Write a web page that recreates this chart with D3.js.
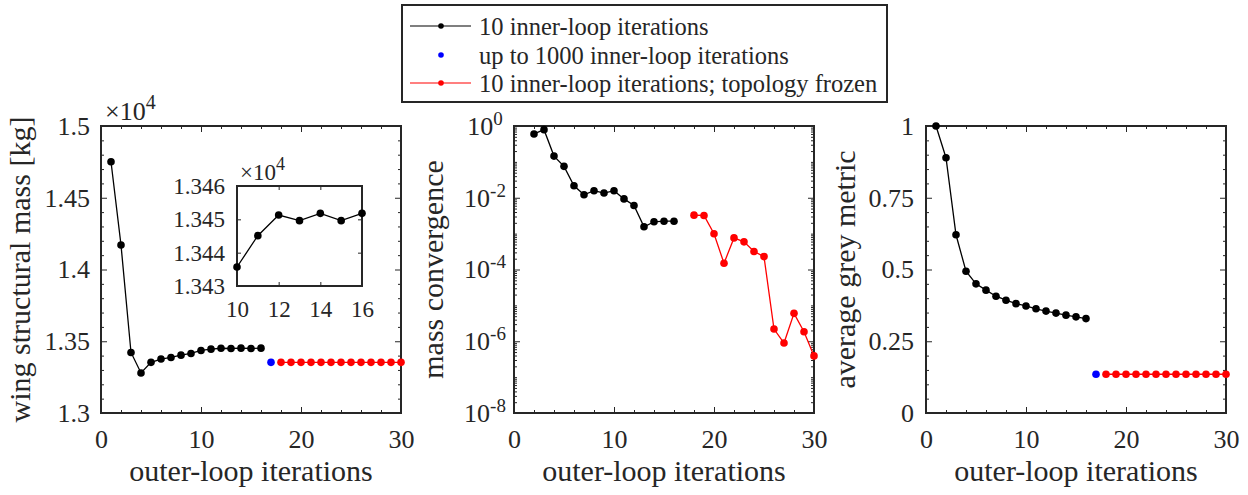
<!DOCTYPE html>
<html><head><meta charset="utf-8">
<script src="https://cdn.jsdelivr.net/npm/d3@7"></script>
<style>
body{margin:0;background:#fff}
svg, svg text{font-family:"Liberation Serif","Times New Roman",serif}
</style></head><body><svg id="c" width="1248" height="495"></svg>
<script>
// ---------------- data ----------------
const itersBlack = [1,2,3,4,5,6,7,8,9,10,11,12,13,14,15,16];
const itersBlue  = [17];
const itersRed   = [18,19,20,21,22,23,24,25,26,27,28,29,30];
const itersConvBlack = [2,3,4,5,6,7,8,9,10,11,12,13,14,15,16];

// wing structural mass [kg]
const massBlack = [14751,14171,13422,13279,13353,13376,13387,13403,13415,13435.7,13445.1,13451.3,13449.6,13451.8,13449.6,13451.8];
const massBlue  = [13353];
const massRed   = [13353,13353,13353,13353,13353,13353,13353,13353,13353,13353,13353,13353,13353];

// mass convergence
const convBlack = [0.6,0.79,0.145,0.075,0.0216,0.0121,0.0157,0.0135,0.0157,0.0093,0.0061,0.00155,0.00214,0.00222,0.00222];
const convRed   = [0.00327,0.0032,0.00099,1.49e-4,7.6e-4,5.9e-4,3.16e-4,2.29e-4,2.19e-6,8.9e-7,6.0e-6,1.84e-6,3.9e-7];

// average grey metric
const greyBlack = [1.0,0.8895,0.621,0.494,0.45,0.428,0.407,0.393,0.381,0.373,0.363,0.355,0.348,0.341,0.335,0.329];
const greyBlue  = [0.135];
const greyRed   = [0.135,0.135,0.135,0.135,0.135,0.135,0.135,0.135,0.135,0.135,0.135,0.135,0.135];

// tick labels
const xTicks = [0,10,20,30];
const massTicks = [13000,13500,14000,14500,15000];
const convTicks = [1e-8,1e-6,1e-4,1e-2,1];
const greyTicks = [0,0.25,0.5,0.75,1];
const greyTickLabels = ["0","0.25","0.5","0.75","1"];
const insetXTicks = [10,12,14,16];
const insetYTicks = [13430,13440,13450,13460];

const legendLabels = ["10 inner-loop iterations","up to 1000 inner-loop iterations","10 inner-loop iterations; topology frozen"];
const xLabel = "outer-loop iterations";
const yLabels = ["wing structural mass [kg]","mass convergence","average grey metric"];

// ---------------- drawing ----------------
const FF = '"Liberation Serif","Times New Roman",serif';
const AX = "#262626", FS = 26, LFS = 30, R = 3.8;
const svg = d3.select("#c");
const TOP = 126, BOT = 413;
const PX = [[101,401],[514,814],[926,1226]];

function tickAxis(g, scale, orient, vals, len, fmt, pad, fs, tx, ty){
  const ax = d3["axis"+orient](scale).tickValues(vals).tickSize(-len).tickSizeOuter(0)
     .tickPadding(pad).tickFormat(fmt || (()=>""));
  const a = g.append("g").attr("transform",`translate(${tx},${ty})`).call(ax);
  a.select(".domain").remove();
  a.attr("font-family",FF).attr("font-size",fs);
  a.selectAll("line").attr("stroke",AX).attr("stroke-width",1);
  a.selectAll("text").attr("fill",AX).attr("font-size",fs).attr("font-family",FF);
  return a;
}

function frame(x, y, xMaj, xMin, yMaj, yMin, yFmt, yPad, fs, majLen, minLen, xPad){
  const g = svg.append("g");
  const [x0,x1] = x.range(); const [y0,y1] = y.range(); // y0 bottom, y1 top
  g.append("rect").attr("x",x0).attr("y",y1).attr("width",x1-x0).attr("height",y0-y1).attr("fill","#fff");
  tickAxis(g,x,"Bottom",xMaj,majLen,d=>d,xPad,fs,0,y0);
  tickAxis(g,x,"Top",xMaj,majLen,null,0,fs,0,y1);
  const left = tickAxis(g,y,"Left",yMaj,majLen,yFmt,yPad,fs,x0,0);
  tickAxis(g,y,"Right",yMaj,majLen,null,0,fs,x1,0);
  if(xMin){ tickAxis(g,x,"Bottom",xMin,minLen,null,0,fs,0,y0); tickAxis(g,x,"Top",xMin,minLen,null,0,fs,0,y1); }
  if(yMin){ tickAxis(g,y,"Left",yMin,minLen,null,0,fs,x0,0); tickAxis(g,y,"Right",yMin,minLen,null,0,fs,x1,0); }
  g.append("rect").attr("x",x0).attr("y",y1).attr("width",x1-x0).attr("height",y0-y1)
    .attr("fill","none").attr("stroke",AX).attr("stroke-width",2);
  return left;
}

function series(x, y, xs, ys, color, withLine){
  const pts = xs.map((v,i)=>[v,ys[i]]);
  if(withLine){
    svg.append("path").datum(pts)
      .attr("d", d3.line().x(d=>x(d[0])).y(d=>y(d[1])))
      .attr("fill","none").attr("stroke",color).attr("stroke-width",1.3);
  }
  svg.append("g").selectAll("circle").data(pts).join("circle")
    .attr("cx",d=>x(d[0])).attr("cy",d=>y(d[1])).attr("r",R).attr("fill",color);
}

function sup(sel, base, exp, fs, efs, dy){
  sel.attr("font-family",FF).attr("font-size",fs).attr("fill",AX);
  sel.append("tspan").text(base);
  sel.append("tspan").attr("dy",-dy).attr("font-size",efs).text(exp);
}

const xMinor = [2,4,6,8,12,14,16,18,22,24,26,28];

// ---- panel 1: mass ----
const x1 = d3.scaleLinear().domain([0,30]).range(PX[0]);
const y1 = d3.scaleLinear().domain([13000,15000]).range([BOT,TOP]);
const massMinor = d3.range(13000,15001,100).filter(v=>v%500!==0);
frame(x1,y1,xTicks,xMinor,massTicks,massMinor,d=>String(d/1e4),11,FS,6,3,17);
series(x1,y1,itersBlack,massBlack,"#000",true);
series(x1,y1,itersBlue,massBlue,"#00f",false);
series(x1,y1,itersRed,massRed,"#f00",true);
svg.append("text").attr("x",105).attr("y",120).call(sup,"×10","4",26,20,11);

// inset
const xi = d3.scaleLinear().domain([10,16]).range([237,362]);
const yi = d3.scaleLinear().domain([13430,13460]).range([286,186]);
frame(xi,yi,insetXTicks,null,insetYTicks,null,d=>(d/1e4).toFixed(3),12,23,4,2,15);
series(xi,yi,itersBlack.slice(9),massBlack.slice(9),"#000",true);
svg.append("text").attr("x",240).attr("y",180).call(sup,"×10","4",23,18,10);

// ---- panel 2: convergence (log) ----
const x2 = d3.scaleLinear().domain([0,30]).range(PX[1]);
const y2 = d3.scaleLog().domain([1e-8,1]).range([BOT,TOP]);
const convMinor = [];
for(let e=-8;e<0;e++){ for(let m=1;m<10;m++){ const v=m*Math.pow(10,e); if(!(m===1 && e%2===0)) convMinor.push(v);} }
const left2 = frame(x2,y2,xTicks,xMinor,convTicks,convMinor,d=>"10",29,FS,6,3,17);
left2.selectAll(".tick text").each(function(d){
  const t = d3.select(this);
  const e = Math.round(Math.log10(d));
  t.attr("text-anchor","middle").text(null);
  t.append("tspan").text("10");
  t.append("tspan").attr("dy",-10).attr("font-size",19).text(String(e));
});
series(x2,y2,itersConvBlack,convBlack,"#000",true);
series(x2,y2,itersRed,convRed,"#f00",true);

// ---- panel 3: grey ----
const x3 = d3.scaleLinear().domain([0,30]).range(PX[2]);
const y3 = d3.scaleLinear().domain([0,1]).range([BOT,TOP]);
const greyMinor = d3.range(0,1.0001,0.05).filter(v=>Math.abs(v/0.25-Math.round(v/0.25))>1e-6);
frame(x3,y3,xTicks,xMinor,greyTicks,greyMinor,d=>greyTickLabels[greyTicks.indexOf(d)],12,FS,6,3,17);
series(x3,y3,itersBlack,greyBlack,"#000",true);
series(x3,y3,itersBlue,greyBlue,"#00f",false);
series(x3,y3,itersRed,greyRed,"#f00",true);

// axis titles
PX.forEach((p,i)=>{
  svg.append("text").attr("x",(p[0]+p[1])/2).attr("y",481).attr("text-anchor","middle")
    .attr("font-family",FF).attr("font-size",LFS).attr("fill",AX).text(xLabel);
  svg.append("text").attr("transform",`translate(${p[0]-71},${(TOP+BOT)/2}) rotate(-90)`)
    .attr("text-anchor","middle").attr("font-family",FF).attr("font-size",LFS).attr("fill",AX).text(yLabels[i]);
});

// legend
const lg = svg.append("g");
lg.append("rect").attr("x",402).attr("y",5).attr("width",485).attr("height",97)
  .attr("fill","#fff").attr("stroke",AX).attr("stroke-width",2);
const legColors = ["#000","#00f","#f00"], legLine=[true,false,true], legY=[26,55,83];
legendLabels.forEach((lab,i)=>{
  if(legLine[i]) lg.append("line").attr("x1",410).attr("x2",471).attr("y1",legY[i]).attr("y2",legY[i])
     .attr("stroke",legColors[i]).attr("stroke-width",1.2);
  lg.append("circle").attr("cx",441).attr("cy",legY[i]).attr("r",2.8).attr("fill",legColors[i]);
  lg.append("text").attr("x",479).attr("y",legY[i]+8.5).attr("font-family",FF).attr("font-size",24.5).attr("fill",AX).text(lab);
});
</script></body></html>
